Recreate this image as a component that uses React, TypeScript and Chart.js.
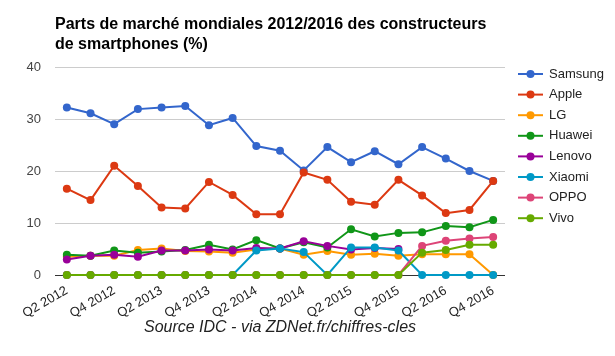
import React, { useEffect, useRef } from 'react';
import { Chart, registerables } from 'chart.js';

Chart.register(...registerables);

const FONT = "'Liberation Sans', Arial, sans-serif";

const quarters = [
  'Q2 2012', 'Q3 2012', 'Q4 2012', 'Q1 2013', 'Q2 2013', 'Q3 2013', 'Q4 2013',
  'Q1 2014', 'Q2 2014', 'Q3 2014', 'Q4 2014', 'Q1 2015', 'Q2 2015', 'Q3 2015',
  'Q4 2015', 'Q1 2016', 'Q2 2016', 'Q3 2016', 'Q4 2016',
];

const samsung = [32.2, 31.1, 29.0, 31.9, 32.2, 32.5, 28.8, 30.2, 24.8, 23.9, 20.1, 24.6, 21.7, 23.8, 21.3, 24.6, 22.4, 20.0, 18.1];
const apple = [16.6, 14.4, 21.0, 17.1, 13.0, 12.8, 17.9, 15.4, 11.7, 11.7, 19.7, 18.3, 14.1, 13.5, 18.3, 15.3, 11.9, 12.5, 18.1];
const lg = [3.5, 3.7, 3.7, 4.8, 5.1, 4.6, 4.5, 4.3, 4.9, 5.1, 3.9, 4.6, 3.9, 4.1, 3.7, 4.0, 4.0, 4.0, 0];
const huawei = [3.9, 3.7, 4.7, 4.3, 4.5, 4.8, 5.8, 4.9, 6.7, 5.1, 6.3, 5.3, 8.8, 7.4, 8.1, 8.2, 9.4, 9.2, 10.6];
const lenovo = [3.0, 3.7, 3.9, 3.5, 4.7, 4.7, 4.9, 4.7, 5.2, 5.1, 6.5, 5.6, 4.9, 5.2, 5.0, null, null, null, null];
const xiaomi = [0, 0, 0, 0, 0, 0, 0, 0, 4.7, 5.1, 4.4, 0, 5.3, 5.3, 4.7, 0, 0, 0, 0];
const oppo = [0, 0, 0, 0, 0, 0, 0, 0, 0, 0, 0, 0, 0, 0, 0, 5.6, 6.6, 7.0, 7.3];
const vivo = [0, 0, 0, 0, 0, 0, 0, 0, 0, 0, 0, 0, 0, 0, 0, 4.3, 4.8, 5.8, 5.8];

const seriesNames = ['Samsung', 'Apple', 'LG', 'Huawei', 'Lenovo', 'Xiaomi', 'OPPO', 'Vivo'];
const seriesValues = [samsung, apple, lg, huawei, lenovo, xiaomi, oppo, vivo];
const seriesColors = ['#3366cc', '#dc3912', '#ff9900', '#109618', '#990099', '#0099c6', '#dd4477', '#66aa00'];

const yMin = 0;
const yMax = 40;
const yStep = 10;

const titleLines = ['Parts de marché mondiales 2012/2016 des constructeurs', 'de smartphones (%)'];
const sourceText = 'Source IDC - via ZDNet.fr/chiffres-cles';

const overlayPlugin = {
  id: 'overlay',
  afterDraw(chart: any) {
    const ctx = chart.ctx;
    const area = chart.chartArea;
    ctx.save();
    // Title
    ctx.fillStyle = '#000';
    ctx.font = `bold 16px ${FONT}`;
    ctx.textAlign = 'left';
    ctx.textBaseline = 'alphabetic';
    titleLines.forEach((t, i) => ctx.fillText(t, area.left, 29 + i * 20));
    // Legend
    const x0 = area.right + 13;
    chart.data.datasets.forEach((ds: any, i: number) => {
      const y = area.top + 7 + i * 20.6;
      ctx.strokeStyle = ds.borderColor;
      ctx.lineWidth = 2;
      ctx.beginPath();
      ctx.moveTo(x0, y);
      ctx.lineTo(x0 + 25, y);
      ctx.stroke();
      ctx.fillStyle = ds.borderColor;
      ctx.beginPath();
      ctx.arc(x0 + 12.5, y, 4, 0, Math.PI * 2);
      ctx.fill();
      ctx.fillStyle = '#222';
      ctx.font = `13px ${FONT}`;
      ctx.textBaseline = 'middle';
      ctx.fillText(ds.label, x0 + 31, y);
    });
    ctx.restore();
  },
};

export default function App() {
  const canvasRef = useRef<HTMLCanvasElement | null>(null);

  useEffect(() => {
    const canvas = canvasRef.current;
    if (!canvas) return;
    const chart = new Chart(canvas, {
      type: 'line',
      data: {
        labels: quarters,
        datasets: seriesNames.map((name, i) => ({
          label: name,
          data: seriesValues[i],
          borderColor: seriesColors[i],
          backgroundColor: seriesColors[i],
          pointBackgroundColor: seriesColors[i],
          pointBorderWidth: 0,
          pointRadius: 4,
          borderWidth: 2,
          tension: 0,
          fill: false,
          spanGaps: false,
          clip: false as any,
          order: seriesNames.length - 1 - i,
        })),
      },
      options: {
        animation: false,
        responsive: false,
        maintainAspectRatio: false,
        layout: { padding: { left: 0, right: 110, top: 67, bottom: 0 } },
        plugins: {
          legend: { display: false },
          title: { display: false },
          tooltip: { enabled: false },
        },
        scales: {
          x: {
            type: 'category',
            offset: true,
            grid: { display: false, drawTicks: false },
            border: { display: false },
            ticks: {
              autoSkip: false,
              minRotation: 30,
              maxRotation: 30,
              padding: 8,
              color: '#222',
              font: { family: FONT, size: 13 },
              callback: (_v: any, idx: number) => (idx % 2 === 0 ? quarters[idx] : ''),
            },
            title: {
              display: true,
              text: sourceText,
              color: '#222',
              font: { family: FONT, size: 16, style: 'italic' },
              padding: { top: 0, bottom: 19 },
            },
            afterFit: (scale: any) => {
              scale.height = 81;
            },
          },
          y: {
            min: yMin,
            max: yMax,
            ticks: {
              stepSize: yStep,
              padding: 14,
              color: '#444',
              font: { family: FONT, size: 13 },
            },
            grid: {
              drawTicks: false,
              color: (c: any) => (c.tick && c.tick.value === 0 ? '#333' : '#cccccc'),
              lineWidth: 1,
            },
            border: { display: false },
            afterFit: (scale: any) => {
              scale.width = 55;
            },
          },
        },
      },
      plugins: [overlayPlugin],
    });
    return () => chart.destroy();
  }, []);

  return (
    <div style={{ position: 'fixed', left: 0, top: 0, width: 615, height: 356, background: '#fff' }}>
      <canvas ref={canvasRef} width={615} height={356} style={{ width: 615, height: 356, display: 'block' }} />
    </div>
  );
}
